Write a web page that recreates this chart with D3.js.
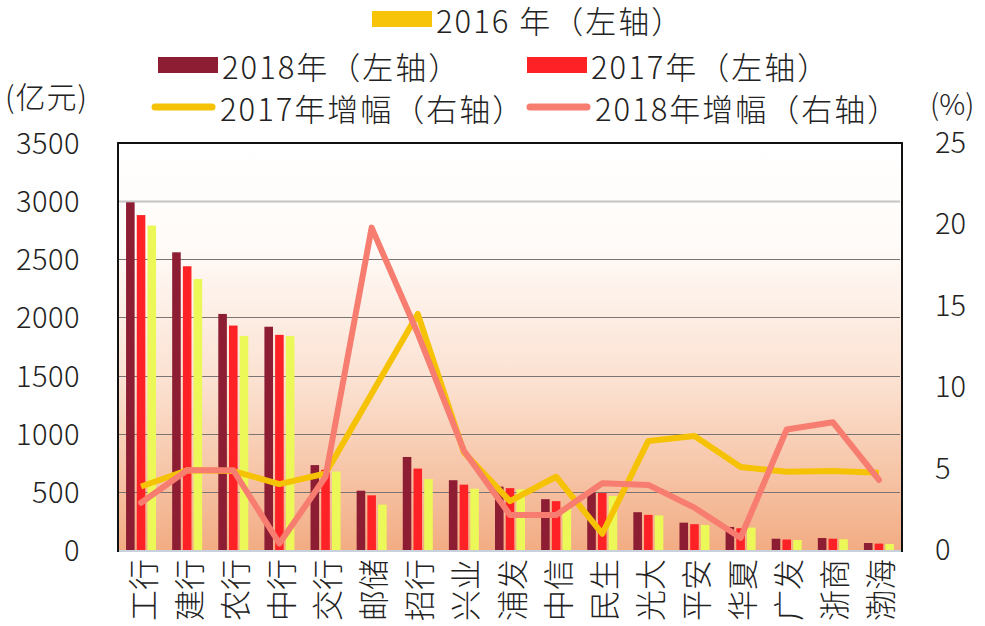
<!DOCTYPE html>
<html lang="zh">
  <head>
    <meta charset="UTF-8">
    <title>Banks</title>
    <style>
      body { margin: 0; background: #fff; }
      text { font-family: "Noto Sans CJK SC", "Noto Sans", sans-serif; font-weight: 300; fill: #222; }
    </style>
  </head>
  <body>
    <div id="chart"></div>
    <script src="https://d3js.org/d3.v7.min.js"></script>
    <script>
      // data (亿元 / %)
      let banks = ["工行", "建行", "农行", "中行", "交行", "邮储", "招行", "兴业", "浦发", "中信", "民生", "光大", "平安", "华夏", "广发", "浙商", "渤海"];
      let v2018 = [2990, 2560, 2030, 1920, 730, 510, 800, 600, 545, 437, 495, 325, 235, 198, 97, 103, 60];
      let v2017 = [2880, 2440, 1930, 1850, 690, 470, 700, 562, 532, 420, 490, 302, 222, 187, 90, 97, 55];
      let v2016 = [2790, 2330, 1840, 1840, 675, 390, 610, 527, 522, 368, 465, 297, 215, 193, 86, 92, 52];
      let g2017 = [3.9, 4.9, 4.85, 4.05, 4.7, 9.6, 14.5, 6.0, 3.0, 4.5, 1.0, 6.7, 7.0, 5.1, 4.8, 4.85, 4.75];
      let g2018 = [2.9, 4.9, 4.9, 0.4, 4.5, 19.8, 13.3, 6.1, 2.15, 2.15, 4.1, 4.0, 2.6, 0.75, 7.4, 7.85, 4.3];
      let leftTicks = [0, 500, 1000, 1500, 2000, 2500, 3000, 3500];
      let rightTicks = [0, 5, 10, 15, 20, 25];

      let width = 985;
      let height = 626;
      let pLeft = 118, pRight = 902, pTop = 143, pBottom = 550;

      let svg = d3.select("#chart").append("svg").attr("width", width).attr("height", height);

      let grad = svg.append("defs").append("linearGradient")
        .attr("id", "bg").attr("x1", 0).attr("y1", 0).attr("x2", 0).attr("y2", 1);
      grad.append("stop").attr("offset", "0%").attr("stop-color", "#ffffff");
      grad.append("stop").attr("offset", "25%").attr("stop-color", "#fffbf8");
      grad.append("stop").attr("offset", "60%").attr("stop-color", "#fbe0cf");
      grad.append("stop").attr("offset", "100%").attr("stop-color", "#f2ac83");

      svg.append("rect").attr("x", pLeft).attr("y", pTop)
        .attr("width", pRight - pLeft).attr("height", pBottom - pTop)
        .attr("fill", "url(#bg)");

      let x = d3.scaleBand().domain(banks).range([pLeft, pRight]);
      let y = d3.scaleLinear().domain([0, 3500]).range([pBottom, pTop]);
      let y2 = d3.scaleLinear().domain([0, 25]).range([pBottom, pTop]);
      let series = [
        { key: "2018", vals: v2018, color: "#8c1d33" },
        { key: "2017", vals: v2017, color: "#fe2226" },
        { key: "2016", vals: v2016, color: "#ecf857" }
      ];
      let x1 = d3.scaleBand().domain(series.map(s => s.key)).range([-15, 15]).paddingInner(0.2);

      // gridlines
      svg.selectAll(".grid")
        .data(leftTicks.filter(d => d > 0 && d < 3500))
        .enter().append("line")
        .attr("x1", pLeft).attr("x2", pRight - 2)
        .attr("y1", d => Math.round(y(d)) + 0.5).attr("y2", d => Math.round(y(d)) + 0.5)
        .attr("stroke", d => d == 3000 ? "#c4c4c4" : "#7a7472")
        .attr("stroke-width", d => d == 3000 ? 2 : 1);

      // bars
      series.forEach(function(s) {
        svg.selectAll(".bar" + s.key)
          .data(s.vals)
          .enter().append("rect")
          .attr("x", (d, i) => x(banks[i]) + x.bandwidth() / 2 + x1(s.key))
          .attr("y", d => y(d))
          .attr("width", x1.bandwidth())
          .attr("height", d => pBottom - y(d))
          .attr("fill", s.color);
      });

      // growth lines
      let line = d3.line()
        .x((d, i) => x(banks[i]) + x.bandwidth() / 2)
        .y(d => y2(d));
      svg.append("path").datum(g2017).attr("d", line)
        .attr("fill", "none").attr("stroke", "#f6c205").attr("stroke-width", 6)
        .attr("stroke-linejoin", "round");
      svg.append("path").datum(g2018).attr("d", line)
        .attr("fill", "none").attr("stroke", "#f67d70").attr("stroke-width", 6)
        .attr("stroke-linejoin", "round").attr("stroke-linecap", "round");

      // frame
      svg.append("line").attr("x1", pLeft).attr("x2", pRight).attr("y1", pBottom + 1).attr("y2", pBottom + 1)
        .attr("stroke", "#c9d1dc").attr("stroke-width", 2);
      svg.append("path")
        .attr("d", `M${pLeft},${pBottom + 2}V${pTop}H${pRight}V${pBottom + 2}`)
        .attr("fill", "none").attr("stroke", "#111").attr("stroke-width", 2);

      // axis labels
      svg.selectAll(".ltick")
        .data(leftTicks)
        .enter().append("text")
        .attr("x", 80).attr("y", d => y(d) - 2)
        .attr("text-anchor", "end").attr("dominant-baseline", "central")
        .attr("font-size", 29).attr("letter-spacing", 0.5)
        .text(d => d);
      svg.selectAll(".rtick")
        .data(rightTicks)
        .enter().append("text")
        .attr("x", 935).attr("y", d => y2(d) - 3)
        .attr("text-anchor", "start").attr("dominant-baseline", "central")
        .attr("font-size", 29)
        .text(d => d);
      svg.selectAll(".xlab")
        .data(banks)
        .enter().append("text")
        .attr("transform", d => `translate(${x(d) + x.bandwidth() / 2},559) rotate(-90)`)
        .attr("text-anchor", "end").attr("dominant-baseline", "central")
        .attr("font-size", 31)
        .text(d => d);

      svg.append("text").attr("x", 88).attr("y", 95).attr("text-anchor", "end")
        .attr("dominant-baseline", "central").attr("font-size", 30).attr("letter-spacing", 1).text("(亿元)");
      svg.append("text").attr("x", 930).attr("y", 102)
        .attr("dominant-baseline", "central").attr("font-size", 29).text("(%)");

      // legend
      let legend = [
        { label: "2016 年（左轴）", color: "#f8c40a", type: "rect", lx: 372, ly: 19 },
        { label: "2018年（左轴）", color: "#8c1d33", type: "rect", lx: 158, ly: 65 },
        { label: "2017年（左轴）", color: "#fe2226", type: "rect", lx: 527, ly: 65 },
        { label: "2017年增幅（右轴）", color: "#f6c205", type: "line", lx: 155, ly: 107 },
        { label: "2018年增幅（右轴）", color: "#f67d70", type: "line", lx: 530, ly: 107 }
      ];
      legend.forEach(function(l) {
        if (l.type == "rect") {
          svg.append("rect").attr("x", l.lx).attr("y", l.ly - 8).attr("width", 60).attr("height", 16).attr("fill", l.color);
        } else {
          svg.append("line").attr("x1", l.lx).attr("x2", l.lx + 57).attr("y1", l.ly).attr("y2", l.ly)
            .attr("stroke", l.color).attr("stroke-width", 7).attr("stroke-linecap", "round");
        }
        svg.append("text").attr("x", l.lx + (l.type == "rect" ? 64 : 65)).attr("y", l.ly)
          .attr("dominant-baseline", "central").attr("font-size", 31).attr("letter-spacing", 2)
          .text(l.label);
      });
    </script>
  </body>
</html>
